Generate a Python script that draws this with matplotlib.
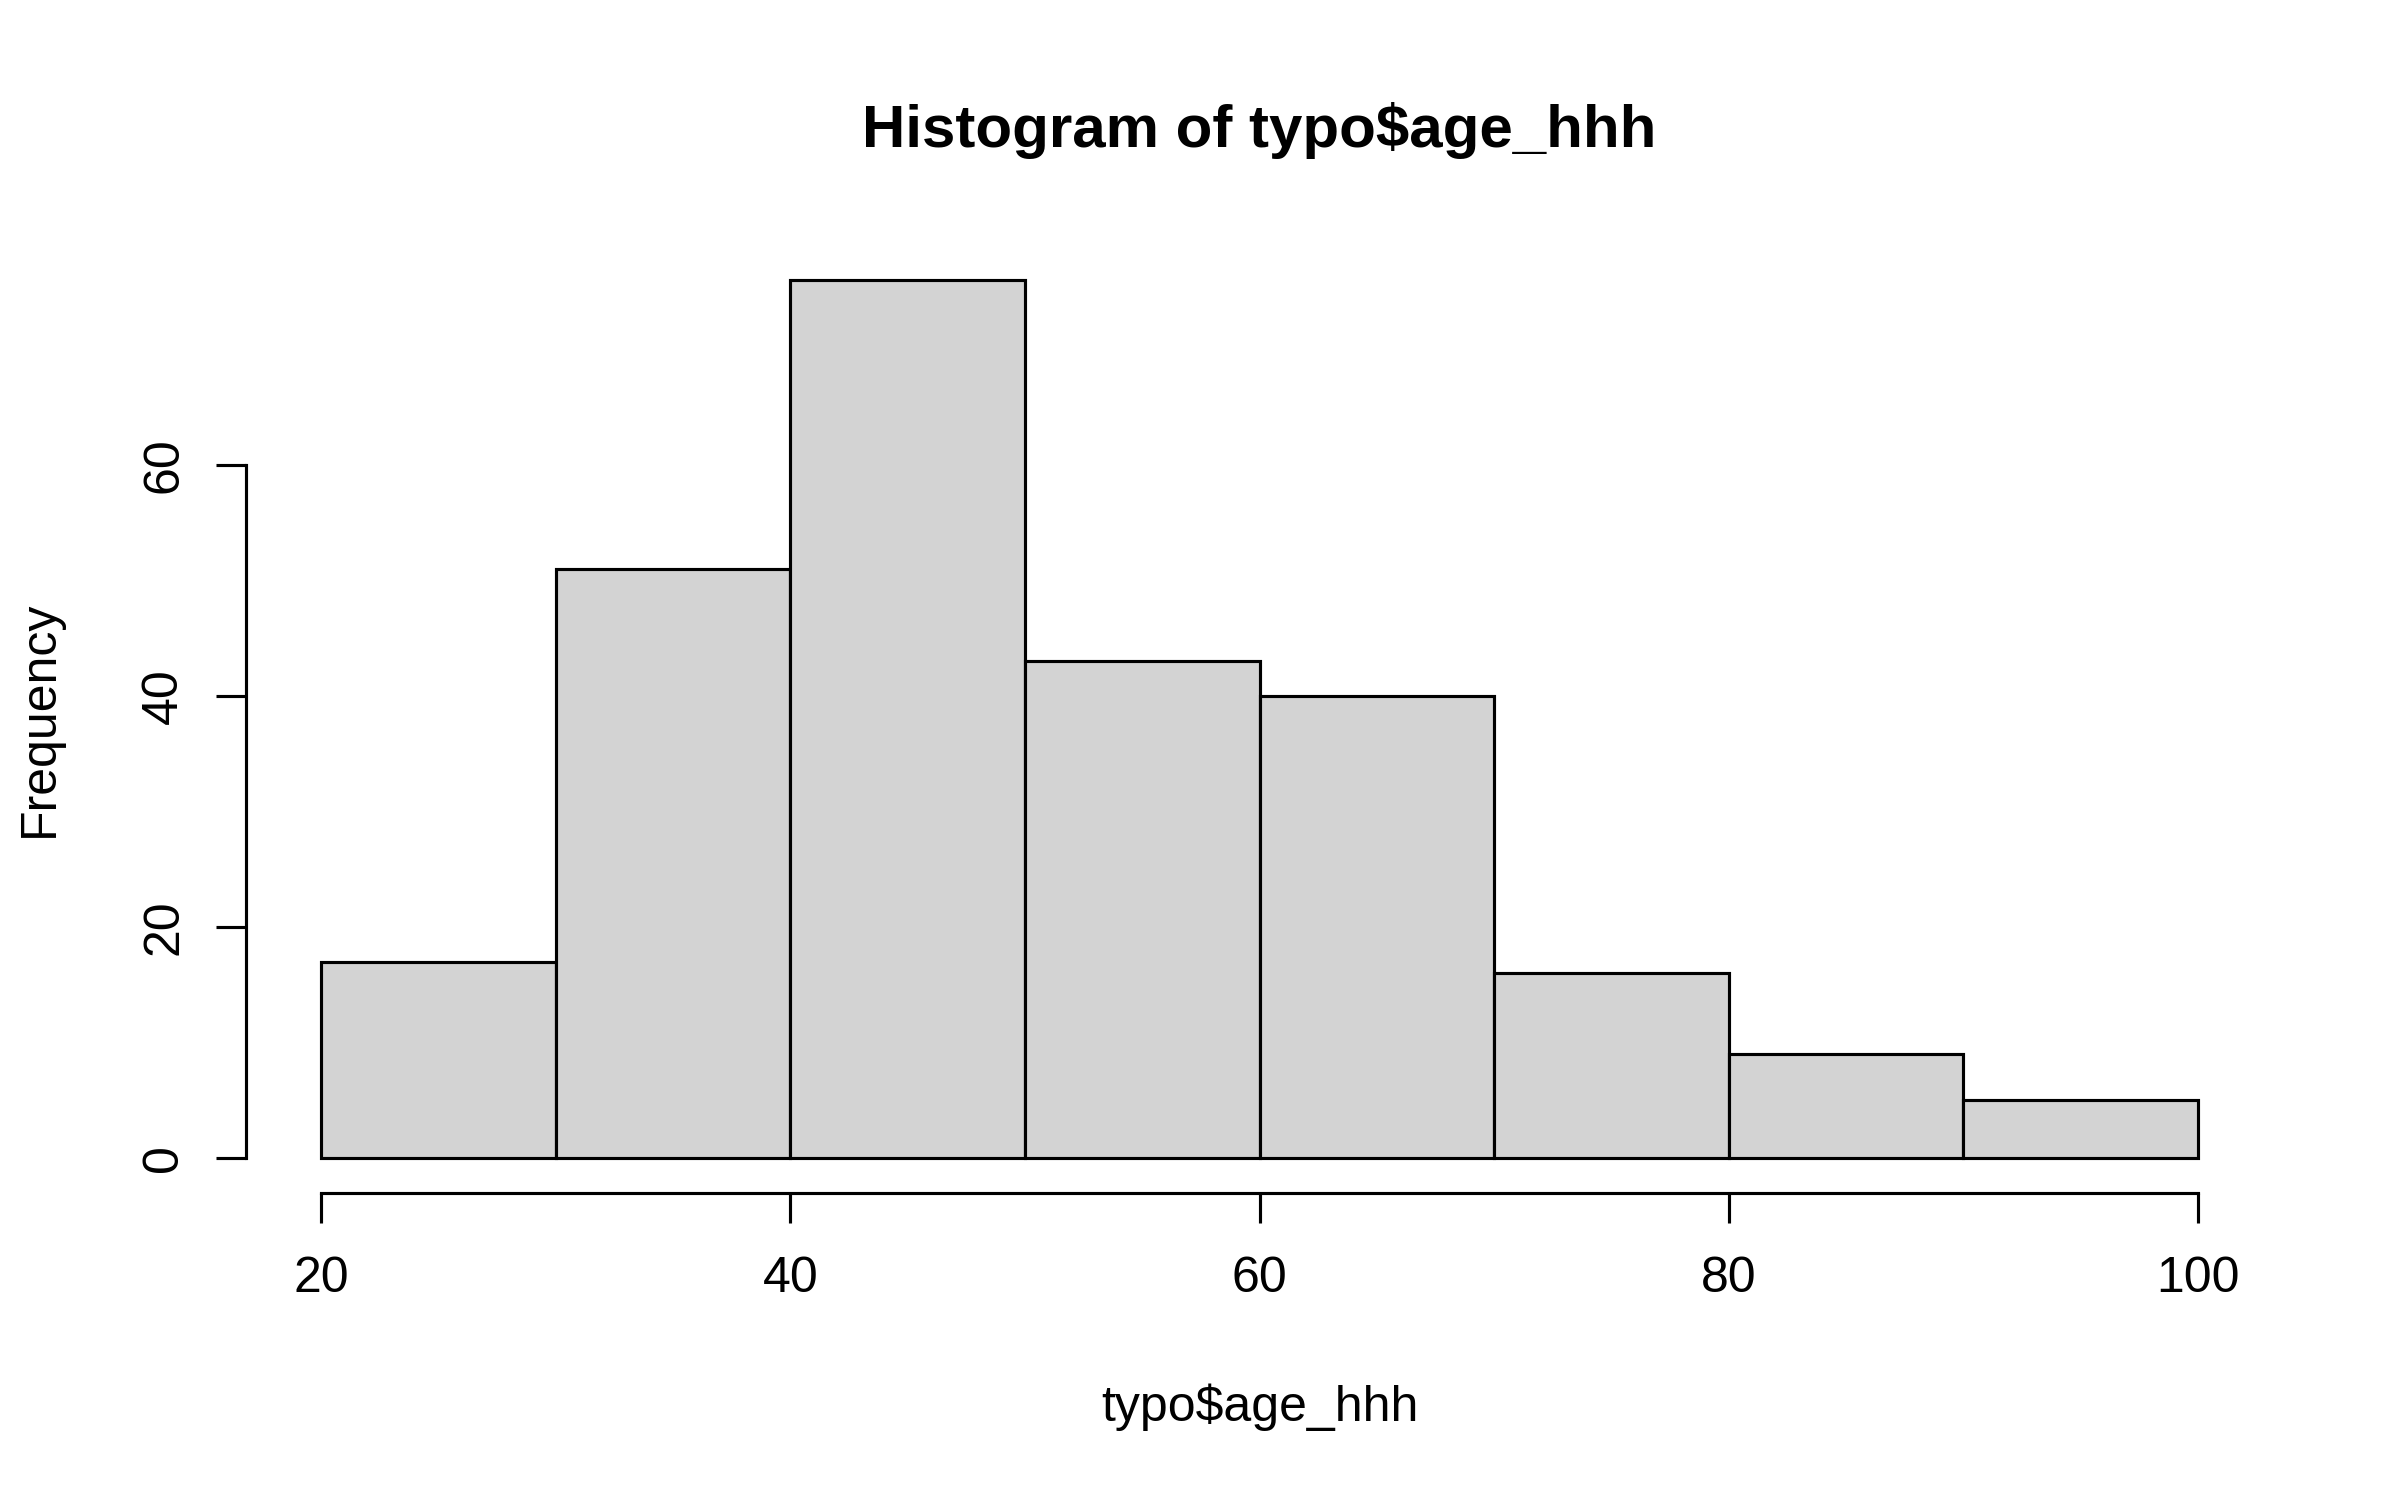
import numpy as np
import matplotlib
matplotlib.use('Agg')
import matplotlib.pyplot as plt

plt.rcParams['font.family'] = ['Liberation Sans', 'DejaVu Sans']

# Histogram data (bin edges and counts)
bin_edges = [20, 30, 40, 50, 60, 70, 80, 90, 100]
counts = [17, 51, 76, 43, 40, 16, 9, 5]
x_ticks = [20, 40, 60, 80, 100]
y_ticks = [0, 20, 40, 60]

fig = plt.figure(figsize=(8, 5), dpi=300)
# plot region in figure fractions (R-style margins)
ax = fig.add_axes([0.1026, 0.2044, 0.947 - 0.1026, 0.8367 - 0.2044])

lefts = np.array(bin_edges[:-1])
widths = np.diff(bin_edges)
ax.bar(lefts, counts, width=widths, align='edge', color='#D3D3D3',
       edgecolor='black', linewidth=0.75)

# R adds 4% on each side
xr = bin_edges[-1] - bin_edges[0]
ax.set_xlim(bin_edges[0] - 0.04 * xr, bin_edges[-1] + 0.04 * xr)
ym = max(counts)
ax.set_ylim(-0.04 * ym, ym * 1.04)

for s in ['top', 'right']:
    ax.spines[s].set_visible(False)
ax.spines['bottom'].set_bounds(x_ticks[0], x_ticks[-1])
ax.spines['left'].set_bounds(y_ticks[0], y_ticks[-1])
for s in ['bottom', 'left']:
    ax.spines[s].set_linewidth(0.75)

ax.set_xticks(x_ticks)
ax.set_yticks(y_ticks)
ax.tick_params(axis='both', length=7.2, width=0.75, labelsize=12)
ax.tick_params(axis='x', pad=7.8)
ax.tick_params(axis='y', pad=7)
plt.setp(ax.get_yticklabels(), rotation=90, va='center')

ax.set_title('Histogram of typo$age_hhh', fontsize=14.4, fontweight='bold', pad=23.5)
ax.text(0.5, -0.2399, 'typo$age_hhh', transform=ax.transAxes, ha='center',
        va='baseline', fontsize=12)
ax.text(-0.0952, 0.5, 'Frequency', transform=ax.transAxes, rotation=90,
        rotation_mode='anchor', ha='center', va='baseline', fontsize=12)

fig.savefig('out.png', dpi=300)
